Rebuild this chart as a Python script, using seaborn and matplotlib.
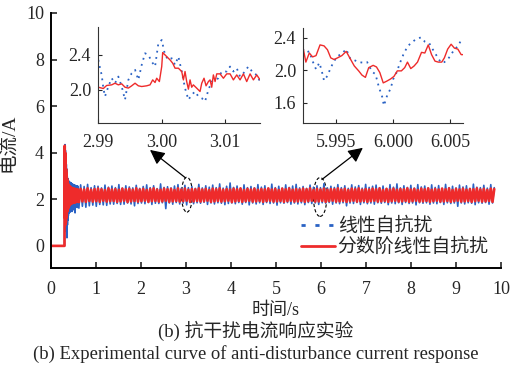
import numpy as np
import pandas as pd
import seaborn as sns
import matplotlib
matplotlib.use("Agg")
import matplotlib.pyplot as plt
from matplotlib.patches import Ellipse
from matplotlib.lines import Line2D

# ---------------- data ----------------
series_names = ["线性自抗扰", "分数阶线性自抗扰"]

# idle part before start
t_idle = [0.0, 0.30]
v_idle = [0.0, 0.0]

# transient 0.305 .. 0.600 s (step 0.005)
red_trans = [4.30, 1.2, 4.0, 0.9, 3.6, 1.0, 3.3, 1.2, 3.1, 1.3, 2.9, 1.5, 2.8, 1.5, 2.7, 1.6, 2.6, 1.7, 2.6, 1.7,
             2.55, 1.75, 2.5, 1.8, 2.55, 1.78, 2.5, 1.8, 2.48, 1.82, 2.5, 1.83, 2.45, 1.85, 2.47, 1.84, 2.45, 1.86, 2.44, 1.87,
             2.46, 1.86, 2.43, 1.88, 2.45, 1.87, 2.42, 1.89, 2.44, 1.88, 2.43, 1.89, 2.42, 1.9, 2.43, 1.89, 2.41, 1.9, 2.42, 1.9]
blue_trans = [3.0, 4.35, 1.5, 4.1, 1.0, 3.8, 0.8, 3.5, 0.6, 3.3, 0.35, 3.0, 0.9, 2.9, 1.1, 2.85, 1.3, 2.8, 1.4, 2.75,
              1.45, 2.75, 1.5, 2.7, 1.45, 2.72, 1.55, 2.68, 1.5, 2.7, 1.6, 2.65, 1.48, 2.66, 1.6, 2.62, 1.62, 2.64, 1.55, 2.6,
              1.65, 2.62, 1.6, 2.6, 1.68, 2.58, 1.42, 2.6, 1.7, 2.57, 1.68, 2.58, 1.7, 2.56, 1.72, 2.55, 1.65, 2.57, 1.74, 2.55]

# steady state 0.62 .. 9.85 s
blue_steady = [
    1.62, 2.62, 1.70, 2.55, 1.66, 2.64, 1.72, 2.50, 1.75, 2.58,
    1.70, 2.56, 1.78, 2.49, 1.76, 2.61, 1.74, 2.52, 1.80, 2.57,
    1.79, 2.50, 1.82, 2.63, 1.78, 2.48, 1.79, 2.58, 1.84, 2.53,
    1.80, 2.49, 1.72, 2.60, 1.82, 2.47, 1.84, 2.55, 1.81, 2.62,
    1.86, 2.50, 1.78, 2.58, 1.83, 2.46, 1.82, 2.66, 1.85, 2.51,
    1.60, 2.54, 1.84, 2.49, 1.79, 2.57, 1.86, 2.63, 1.80, 2.48,
    1.84, 2.60, 1.76, 2.50, 1.86, 2.55, 1.81, 2.47, 1.85, 2.64,
    1.83, 2.49, 1.87, 2.58, 1.78, 2.52, 1.84, 2.61, 1.80, 2.50,
    1.85, 2.66, 1.83, 2.48, 1.77, 2.56, 1.82, 2.70, 1.84, 2.51,
    1.81, 2.57, 1.86, 2.47, 1.79, 2.62, 1.86, 2.50, 1.76, 2.55,
    1.84, 2.49, 1.80, 2.63, 1.85, 2.52, 1.78, 2.58, 1.86, 2.47,
    1.82, 2.65, 1.84, 2.50, 1.75, 2.56, 1.85, 2.48, 1.83, 2.62,
    1.86, 2.51, 1.79, 2.57, 1.84, 2.64, 1.80, 2.49, 1.85, 2.55,
    1.77, 2.47, 1.86, 2.61, 1.82, 2.52, 1.84, 2.58, 1.78, 2.50,
    1.85, 2.67, 1.83, 2.49, 1.86, 2.56, 1.79, 2.51, 1.84, 2.63,
    1.81, 2.50, 1.85, 2.58, 1.72, 2.47, 1.84, 2.62, 1.82, 2.53,
    1.86, 2.59, 1.78, 2.48, 1.85, 2.64, 1.81, 2.51, 1.84, 2.56,
    1.79, 2.61, 1.85, 2.50, 1.83, 2.57, 1.86, 2.46, 1.77, 2.63,
    1.84, 2.52, 1.81, 2.66, 1.85, 2.49, 1.78, 2.58, 1.86, 2.51,
    1.82, 2.60, 1.84, 2.48, 1.76, 2.63, 1.85, 2.53, 1.83, 2.57,
    1.85, 2.49, 1.79, 2.62, 1.84, 2.51, 1.81, 2.59, 1.86, 2.47,
    1.78, 2.64, 1.85, 2.50, 1.82, 2.56, 1.84, 2.49, 1.70, 2.61,
    1.84, 2.53, 1.80, 2.58, 1.85, 2.47, 1.83, 2.65, 1.77, 2.52,
    1.85, 2.50, 1.83, 2.60, 1.86, 2.48, 1.79, 2.63, 1.84, 2.50]
red_steady = [
    1.88, 2.45, 1.91, 2.42, 1.89, 2.47, 1.93, 2.41, 1.90, 2.44,
    1.92, 2.46, 1.89, 2.43, 1.94, 2.40, 1.90, 2.47, 1.92, 2.42,
    1.93, 2.44, 1.89, 2.41, 1.91, 2.46, 1.94, 2.43, 1.88, 2.45,
    1.91, 2.41, 1.93, 2.47, 1.90, 2.42, 1.92, 2.45, 1.94, 2.40,
    1.89, 2.44, 1.92, 2.47, 1.93, 2.42, 1.90, 2.41, 1.91, 2.46,
    1.94, 2.43, 1.89, 2.45, 1.91, 2.40, 1.93, 2.47, 1.90, 2.42,
    1.92, 2.46, 1.94, 2.41, 1.89, 2.44, 1.91, 2.43, 1.93, 2.47,
    1.90, 2.42, 1.92, 2.45, 1.94, 2.40, 1.89, 2.46, 1.91, 2.43,
    1.93, 2.47, 1.90, 2.41, 1.92, 2.44, 1.94, 2.42, 1.88, 2.46,
    1.91, 2.43, 1.93, 2.47, 1.89, 2.40, 1.92, 2.45, 1.94, 2.42,
    1.90, 2.46, 1.91, 2.41, 1.93, 2.44, 1.89, 2.43, 1.92, 2.47,
    1.94, 2.42, 1.90, 2.45, 1.91, 2.40, 1.93, 2.46, 1.89, 2.43,
    1.92, 2.47, 1.94, 2.41, 1.90, 2.44, 1.91, 2.42, 1.93, 2.46,
    1.89, 2.43, 1.92, 2.47, 1.94, 2.40, 1.90, 2.45, 1.91, 2.42,
    1.93, 2.46, 1.89, 2.41, 1.92, 2.44, 1.94, 2.43, 1.90, 2.47,
    1.91, 2.42, 1.93, 2.45, 1.89, 2.40, 1.92, 2.46, 1.94, 2.43,
    1.90, 2.47, 1.91, 2.41, 1.93, 2.44, 1.89, 2.42, 1.92, 2.46,
    1.94, 2.43, 1.90, 2.47, 1.91, 2.40, 1.93, 2.45, 1.89, 2.42,
    1.92, 2.46, 1.94, 2.41, 1.90, 2.44, 1.91, 2.43, 1.93, 2.47,
    1.89, 2.42, 1.92, 2.45, 1.94, 2.40, 1.90, 2.46, 1.91, 2.43,
    1.93, 2.47, 1.89, 2.41, 1.92, 2.44, 1.94, 2.42, 1.90, 2.46,
    1.91, 2.43, 1.93, 2.47, 1.89, 2.40, 1.92, 2.45, 1.94, 2.42,
    1.90, 2.46, 1.91, 2.41, 1.93, 2.44, 1.89, 2.43, 1.92, 2.47,
    1.94, 2.42, 1.90, 2.45, 1.91, 2.40, 1.93, 2.46, 1.89, 2.44]

# inset 1 (around t = 3 s)
in1_red_t = [2.99005, 2.99084, 2.99136, 2.99215, 2.99268, 2.99320, 2.99373, 2.99425, 2.99478, 2.99530,
             2.99583, 2.99635, 2.99688, 2.99766, 2.99819, 2.99861, 2.99898, 2.99924, 2.99966, 3.00003,
             3.00018, 3.00055, 3.00081, 3.00134, 3.00176, 3.00213, 3.00265, 3.00318, 3.00344, 3.00370,
             3.00396, 3.00423, 3.00449, 3.00475, 3.00501, 3.00554, 3.00606, 3.00633, 3.00669, 3.00701,
             3.00738, 3.00764, 3.00790, 3.00816, 3.00843, 3.00869, 3.00921, 3.00974, 3.01026, 3.01079,
             3.01131, 3.01184, 3.01236, 3.01289, 3.01341, 3.01394, 3.01446, 3.01499, 3.01551]
in1_red_v = [2.030, 2.015, 2.050, 2.057, 2.076, 2.057, 2.069, 2.030, 2.020, 2.046,
             2.076, 2.046, 2.038, 2.046, 2.057, 2.114, 2.084, 2.133, 2.095, 2.267,
             2.427, 2.400, 2.381, 2.343, 2.305, 2.248, 2.248, 2.210, 2.114, 2.210,
             2.095, 2.008, 2.114, 2.030, 2.057, 2.019, 1.981, 2.076, 2.133, 2.046,
             2.095, 2.114, 2.030, 2.171, 2.095, 2.183, 2.183, 2.133, 2.183, 2.183,
             2.114, 2.171, 2.114, 2.183, 2.095, 2.183, 2.114, 2.171, 2.114]
in1_blue_t = [2.99005, 2.99032, 2.99058, 2.99084, 2.99110, 2.99163, 2.99215, 2.99268, 2.99320, 2.99373,
              2.99425, 2.99478, 2.99530, 2.99583, 2.99635, 2.99688, 2.99740, 2.99793, 2.99845, 2.99898,
              2.99950, 3.00003, 3.00055, 3.00108, 3.00160, 3.00213, 3.00265, 3.00318, 3.00370, 3.00423,
              3.00475, 3.00528, 3.00580, 3.00633, 3.00685, 3.00738, 3.00790, 3.00843, 3.00895, 3.00948,
              3.01026, 3.01079, 3.01131, 3.01184, 3.01236, 3.01289, 3.01367, 3.01446, 3.01499, 3.01551]
in1_blue_v = [2.343, 2.248, 2.171, 2.019, 1.924, 2.038, 2.133, 2.076, 2.152, 2.038,
              1.886, 2.114, 2.190, 2.229, 2.114, 2.286, 2.419, 2.400, 2.324, 2.267,
              2.533, 2.571, 2.400, 2.343, 2.362, 2.286, 2.381, 2.210, 2.019, 1.886,
              1.943, 1.981, 1.924, 1.905, 1.867, 2.000, 2.095, 2.114, 2.133, 2.210,
              2.210, 2.267, 2.210, 2.248, 2.152, 2.190, 2.267, 2.190, 2.171, 2.095]

# inset 2 (around t = 6 s)
in2_red_t = [5.99206, 5.99235, 5.99265, 5.99294, 5.99324, 5.99359, 5.99394, 5.99424, 5.99453, 5.99482,
             5.99512, 5.99550, 5.99588, 5.99624, 5.99659, 5.99697, 5.99726, 5.99756, 5.99785, 5.99824,
             5.99853, 5.99882, 5.99912, 5.99941, 5.99976, 6.00006, 6.00035, 6.00071, 6.00100, 6.00124,
             6.00153, 6.00182, 6.00212, 6.00247, 6.00276, 6.00306, 6.00335, 6.00365, 6.00394, 6.00424,
             6.00447, 6.00476, 6.00506, 6.00535, 6.00565, 6.00594, 6.00618]
in2_red_v = [2.312, 2.100, 2.212, 2.164, 2.180, 2.312, 2.300, 2.252, 2.152, 2.132,
             2.152, 2.180, 2.232, 2.140, 2.052, 1.992, 1.940, 1.912, 2.032, 2.060,
             2.040, 1.972, 1.844, 1.864, 1.892, 1.924, 1.992, 1.992, 2.032, 2.100,
             2.020, 2.052, 2.100, 2.220, 2.212, 2.312, 2.192, 2.112, 2.100, 2.100,
             2.152, 2.260, 2.320, 2.272, 2.260, 2.192, 2.192]
in2_blue_t = [5.99206, 5.99235, 5.99265, 5.99294, 5.99324, 5.99353, 5.99374, 5.99394, 5.99424, 5.99453,
              5.99482, 5.99512, 5.99550, 5.99588, 5.99624, 5.99659, 5.99697, 5.99741, 5.99771, 5.99815,
              5.99844, 5.99874, 5.99903, 5.99918, 5.99947, 5.99976, 6.00000, 6.00029, 6.00059, 6.00088,
              6.00124, 6.00159, 6.00197, 6.00241, 6.00276, 6.00315, 6.00344, 6.00382, 6.00418, 6.00447,
              6.00476, 6.00506, 6.00535, 6.00565, 6.00594, 6.00618]
in2_blue_v = [2.260, 2.220, 2.232, 2.112, 2.012, 2.092, 1.992, 1.872, 1.932, 2.032,
              2.112, 2.172, 2.204, 2.260, 2.140, 2.124, 2.100, 2.092, 2.100, 1.980,
              1.952, 1.792, 1.672, 1.564, 1.692, 1.772, 1.892, 1.972, 2.092, 2.192,
              2.292, 2.340, 2.380, 2.404, 2.352, 2.332, 2.260, 2.172, 2.092, 2.100,
              2.132, 2.192, 2.260, 2.292, 2.372, 2.380]

main_xticks = [0, 1, 2, 3, 4, 5, 6, 7, 8, 9, 10]
main_yticks = [0, 2, 4, 6, 8, 10]
in1_xticks = [2.99, 3.00, 3.01]
in1_yticks = [2.0, 2.4]
in2_xticks = [5.995, 6.000, 6.005]
in2_yticks = [1.6, 2.0, 2.4]

# --------------- build frames ---------------
t_trans = np.round(np.linspace(0.305, 0.600, len(red_trans)), 4)
t_steady = np.linspace(0.62, 9.85, len(red_steady))
t_all = np.concatenate([t_idle, t_trans, t_steady])
df_main = pd.DataFrame({
    "t": np.concatenate([t_all, t_all]),
    "v": np.concatenate([v_idle, blue_trans, blue_steady, v_idle, red_trans, red_steady]),
    "s": [series_names[0]] * len(t_all) + [series_names[1]] * len(t_all),
})

# --------------- style ---------------
sns.set_style("ticks")
plt.rcParams["font.family"] = ["Liberation Serif", "Noto Sans CJK SC"]
plt.rcParams["axes.unicode_minus"] = False

BLUE = "#2a62c4"
RED = "#ee2b2b"

fig = plt.figure(figsize=(5.11, 3.74), dpi=100)
ax = fig.add_axes([51 / 511, 1 - 268 / 374, 450 / 511, 255 / 374])

sns.lineplot(data=df_main[df_main.s == series_names[0]], x="t", y="v", ax=ax,
             color=BLUE, lw=1.2, sort=False, legend=False, estimator=None)
sns.lineplot(data=df_main[df_main.s == series_names[1]], x="t", y="v", ax=ax,
             color=RED, lw=1.9, sort=False, legend=False, estimator=None)

ax.set_xlim(0, 10)
ax.set_ylim(-0.95, 10)
ax.set_xticks(main_xticks)
ax.set_yticks(main_yticks)
ax.tick_params(direction="in", length=4, width=1.2, labelsize=13)
ax.tick_params(axis="x", pad=9)
ax.tick_params(axis="y", pad=5)
for sp in ["top", "right"]:
    ax.spines[sp].set_visible(False)
for sp in ["left", "bottom"]:
    ax.spines[sp].set_linewidth(1.4)
    ax.spines[sp].set_color("black")
ax.set_xlabel("时间/s", fontsize=13)
ax.set_ylabel("电流/A", fontsize=14)
ax.xaxis.set_label_coords(0.5, -0.132)
ax.yaxis.set_label_coords(-0.075, 0.49)

# ellipses + arrows
ax.add_patch(Ellipse((3.02, 2.2), 0.24, 1.5, fill=False, ec="black", lw=0.8, ls=(0, (3, 2))))
ax.add_patch(Ellipse((5.98, 2.1), 0.30, 1.67, fill=False, ec="black", lw=0.8, ls=(0, (3, 2))))
arrow_kw = dict(arrowstyle="-|>", mutation_scale=22, color="black", lw=0.9, shrinkA=0, shrinkB=0)
ax.annotate("", xy=(2.20, 4.12), xytext=(2.99, 2.92), arrowprops=arrow_kw)
ax.annotate("", xy=(6.93, 4.21), xytext=(6.02, 2.85), arrowprops=arrow_kw)

# legend
handles = [Line2D([0], [0], color=BLUE, lw=2.0, ls=(0, (1.5, 3.5))),
           Line2D([0], [0], color=RED, lw=2.0)]
ax.legend(handles, series_names, loc="upper left", bbox_to_anchor=(0.555, 0.207),
          frameon=False, handlelength=1.8, handletextpad=0.15,
          labelspacing=0.0, borderpad=0, borderaxespad=0,
          prop={"family": ["Noto Sans CJK SC"], "size": 13.6})


def style_inset(a):
    for sp in ["top", "right"]:
        a.spines[sp].set_visible(False)
    for sp in ["left", "bottom"]:
        a.spines[sp].set_linewidth(0.8)
        a.spines[sp].set_color("#333333")
    a.tick_params(direction="in", length=3, width=0.8, labelsize=13)
    a.tick_params(axis="x", pad=8)
    a.tick_params(axis="y", pad=5)
    a.set_xlabel("")
    a.set_ylabel("")
    a.set_facecolor("white")


# inset 1
ax1 = fig.add_axes([98 / 511, 1 - 123 / 374, 162 / 511, 96 / 374])
sns.lineplot(x=in1_blue_t, y=in1_blue_v, ax=ax1, color=BLUE, lw=1.3, ls=(0, (1, 2.5)), sort=False, estimator=None)
sns.lineplot(x=in1_red_t, y=in1_red_v, ax=ax1, color=RED, lw=1.0, sort=False, estimator=None)
ax1.set_xlim(2.99, 3.0155)
ax1.set_ylim(1.62, 2.72)
ax1.set_xticks(in1_xticks)
ax1.set_xticklabels([f"{v:.2f}" for v in in1_xticks])
ax1.set_yticks(in1_yticks)
ax1.set_yticklabels([f"{v:.1f}" for v in in1_yticks])
style_inset(ax1)

# inset 2
ax2 = fig.add_axes([303 / 511, 1 - 123 / 374, 160 / 511, 95 / 374])
sns.lineplot(x=in2_blue_t, y=in2_blue_v, ax=ax2, color=BLUE, lw=1.3, ls=(0, (1, 2.5)), sort=False, estimator=None)
sns.lineplot(x=in2_red_t, y=in2_red_v, ax=ax2, color=RED, lw=1.0, sort=False, estimator=None)
ax2.set_xlim(5.9921, 6.0061)
ax2.set_ylim(1.35, 2.52)
ax2.set_xticks(in2_xticks)
ax2.set_xticklabels([f"{v:.3f}" for v in in2_xticks])
ax2.set_yticks(in2_yticks)
ax2.set_yticklabels([f"{v:.1f}" for v in in2_yticks])
style_inset(ax2)

# captions
fig.text(0.5, 1 - 331 / 374, "(b) 抗干扰电流响应实验", ha="center", va="center", fontsize=13.5)
fig.text(0.5, 1 - 354 / 374, "(b) Experimental curve of anti-disturbance current response",
         ha="center", va="center", fontsize=13.4)

fig.savefig("out.png", dpi=100)
